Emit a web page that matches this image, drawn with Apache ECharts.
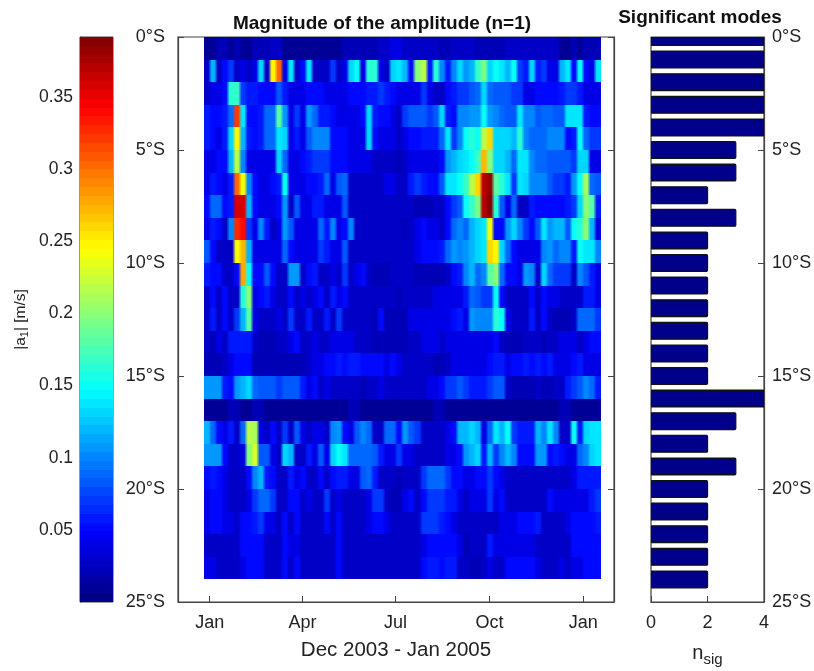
<!DOCTYPE html>
<html><head><meta charset="utf-8">
<style>html,body{margin:0;padding:0;background:#fff}#c{width:814px;height:671px;filter:blur(0.4px)}</style>
<script src="https://cdn.jsdelivr.net/npm/echarts@6/dist/echarts.min.js"></script>
</head><body><div id="c"></div>
<script>
// Amplitude in cm/s, one list per 1-degree latitude band, 66 time columns each
const lat00=[1,1,2,2,1,2,1,1,2,2,2, 3,3,1,1,1,1,1,1,1,1,1, 1,2,2,2,2,2,2,3,3,4,4, 3,3,3,3,3,3,2,2,3,3,3, 3,2,2,2,2,2,3,3,3,3,3, 3,3,3,3,1,1,2,1,2,2,2];
const lat01=[3,12,3,5,7,3,4,3,4,13,3, 25,30,4,14,3,5,14,3,3,3,7, 3,4,13,15,4,16,16,4,3,13,14, 12,5,20,22,6,16,10,6,10,13,11, 12,17,19,13,15,14,12,15,7,6,13, 6,7,4,4,12,14,5,15,5,4,14];
const lat02=[3,4,4,5,16,17,7,6,6,5,5, 5,8,6,4,4,4,5,5,5,4,4, 4,4,5,5,5,6,6,7,6,5,4, 4,4,4,7,4,3,3,5,6,7,7, 8,9,13,9,8,8,8,7,7,4,4, 5,5,5,5,6,7,7,6,4,4,4];
const lat03=[6,5,5,6,9,32,14,5,5,6,9, 9,18,11,4,7,4,11,9,6,6,5, 4,4,4,4,5,13,6,5,5,4,3, 7,8,8,8,7,8,13,6,5,10,10, 11,11,15,11,10,9,8,8,14,10,10, 8,9,9,8,8,14,14,14,6,5,5];
const lat04=[6,5,4,6,13,25,12,6,5,6,9, 9,14,13,4,6,4,8,10,10,10,5, 5,5,4,4,4,13,5,4,4,4,3, 4,5,5,6,6,6,9,14,7,10,15, 16,15,22,26,13,13,13,12,16,10,9, 9,9,10,10,10,5,6,15,9,7,7];
const lat05=[4,4,5,5,12,22,10,4,4,4,4, 4,13,9,4,4,5,6,7,7,7,5, 5,5,4,4,4,4,3,3,3,3,2, 3,4,4,4,4,4,5,11,12,13,14, 15,17,27,20,13,13,12,9,14,14,10, 9,9,8,8,8,8,7,13,13,4,4];
const lat06=[4,6,5,4,6,30,24,10,5,4,4, 5,6,15,4,4,4,5,5,6,9,4, 8,9,3,3,3,3,3,3,4,4,3, 3,6,7,6,5,5,8,14,14,15,17, 22,26,37,38,18,16,14,7,14,13,10, 10,10,8,7,7,6,11,15,21,9,8];
const lat07=[5,9,9,5,6,36,36,12,5,4,4, 4,5,11,3,8,4,4,6,6,4,4, 4,8,3,3,3,3,3,3,3,3,3, 3,3,2,2,2,3,3,5,7,8,15, 17,19,37,39,16,8,4,9,3,3,6, 5,5,5,5,5,6,7,13,20,18,6];
const lat08=[4,6,5,3,10,33,34,7,4,10,6, 3,4,11,8,4,4,4,4,9,6,10, 4,5,10,3,3,3,3,3,3,3,3, 2,3,4,5,4,4,3,5,9,10,9, 12,13,14,24,5,5,11,13,10,7,5, 8,14,11,12,12,8,15,16,20,12,4];
const lat09=[8,5,3,3,3,24,27,12,4,4,4, 4,4,9,5,4,4,4,4,7,6,4, 4,8,3,3,3,3,3,3,3,3,3, 3,3,4,5,5,5,6,9,11,10,11, 12,13,14,26,25,13,9,5,4,4,4, 4,10,11,9,10,10,6,15,14,14,10];
const lat10=[6,5,5,3,3,5,28,15,5,5,8, 5,3,3,11,11,3,5,6,3,3,4, 3,7,3,4,5,3,2,2,2,3,3, 3,3,2,2,2,2,2,3,5,6,10, 12,9,10,18,20,9,5,5,4,11,10, 3,13,9,7,7,7,3,10,8,6,4];
const lat11=[3,5,3,5,3,3,16,20,4,5,6, 4,3,3,5,3,4,3,4,5,3,6, 4,5,3,3,3,3,3,3,3,3,2, 3,3,3,3,3,4,4,4,4,4,6, 9,8,7,7,15,5,3,3,3,3,5, 3,5,4,4,3,3,3,3,6,6,4];
const lat12=[3,6,3,5,3,7,12,18,4,3,3, 3,4,3,7,3,3,6,3,3,6,3, 7,3,3,3,3,3,2,5,2,2,2, 2,4,4,4,4,4,4,4,5,6,4, 11,10,10,10,16,15,4,3,3,3,6, 3,5,3,2,2,2,3,9,9,9,7];
const lat13=[3,2,4,3,6,6,6,6,3,2,2, 2,3,3,4,5,3,3,4,3,3,4, 4,4,4,3,3,3,2,2,2,2,2, 2,3,3,4,4,4,3,4,4,4,4, 4,4,4,4,5,3,2,2,2,3,3, 3,2,3,3,4,4,4,3,4,5,5];
const lat14=[2,2,2,3,4,5,5,5,2,2,2, 2,2,2,2,2,2,3,4,4,5,5, 6,5,6,6,5,5,5,5,4,5,4, 3,3,3,3,3,2,2,3,4,4,4, 4,4,4,5,6,6,4,5,5,6,5, 6,5,6,4,4,4,5,6,4,4,4];
const lat15=[11,11,11,6,5,11,12,13,9,8,8, 8,7,8,8,8,6,4,5,3,4,3, 3,3,3,3,2,3,3,4,3,3,3, 3,3,3,3,4,4,5,7,7,8,7, 6,6,6,7,8,8,3,2,2,2,2, 3,2,2,3,3,6,7,8,10,9,6];
const lat16=[1,1,1,1,2,2,1,1,2,2,1, 1,1,1,1,1,1,1,1,1,1,1, 1,1,2,2,1,1,1,1,1,1,1, 1,1,1,1,1,2,2,1,1,1,1, 1,1,1,1,1,1,1,1,1,1,1, 1,1,1,1,2,2,1,1,1,1,1];
const lat17=[12,9,5,4,6,3,9,22,21,4,3, 5,3,7,3,8,4,3,4,4,3,10, 11,5,4,8,10,9,3,3,9,9,5, 11,8,7,3,3,3,3,4,5,12,12, 13,12,4,9,14,12,15,7,6,6,6, 12,10,14,10,3,3,15,6,13,14,14];
const lat18=[11,11,11,5,3,3,4,20,23,8,8, 4,3,13,12,3,3,6,4,8,4,13, 15,14,9,9,9,9,8,6,4,4,7, 4,4,3,3,3,3,3,4,4,5,11, 12,13,6,12,7,10,12,10,5,5,5, 11,11,5,6,5,4,4,9,10,13,14];
const lat19=[5,6,5,4,3,3,3,5,10,12,6, 5,3,3,6,4,5,3,3,5,3,5, 6,6,4,4,8,9,6,3,3,3,2, 3,3,3,7,9,9,9,7,5,5,4, 4,5,5,7,5,4,3,3,3,3,3, 3,3,3,3,3,3,4,6,6,6,6];
const lat20=[4,5,5,4,3,3,3,4,7,9,9, 7,3,3,5,5,3,4,3,3,7,3, 4,3,3,3,3,4,7,7,3,2,2, 4,5,3,5,7,7,7,6,6,4,3, 4,4,4,7,4,5,3,3,3,3,3, 3,3,5,4,4,4,4,4,4,6,7];
const lat21=[4,5,5,4,4,3,5,5,6,7,4, 4,3,5,3,5,3,3,3,3,5,3, 5,3,3,3,3,4,5,5,4,3,3, 3,3,3,7,7,7,6,5,4,3,3, 3,3,3,3,3,4,4,4,5,5,5, 6,3,3,3,3,4,5,5,5,5,6];
const lat22=[3,3,3,3,3,3,5,5,5,5,3, 3,3,5,4,4,3,3,3,3,3,3, 5,3,3,3,3,3,3,3,3,3,3, 3,3,3,4,5,5,5,5,5,4,2, 3,3,3,6,4,4,4,4,4,4,4, 3,3,3,3,3,3,5,5,5,5,5];
const lat23=[4,4,3,3,3,3,4,5,5,5,3, 3,3,5,3,5,3,3,3,3,3,3, 5,3,3,3,3,3,3,3,3,3,3, 3,3,3,5,6,6,5,6,6,3,3, 2,2,3,4,3,3,5,5,5,5,5, 4,3,3,3,4,3,4,4,5,5,5];
const bands=[lat00,lat01,lat02,lat03,lat04,lat05,lat06,lat07,lat08,lat09,lat10,lat11,lat12,lat13,lat14,lat15,lat16,lat17,lat18,lat19,lat20,lat21,lat22,lat23];

// Significant modes at 0..24 degrees south
const nsig=[4,4,4,4,4,3,3,2,3,2,2,2,2,2,2,2,4,3,2,3,2,2,2,2,2];

// Time: days relative to 1 Jan 2004
const startDay=-5.9, stepDay=5.9;
const monthTickDays=[0,91,182,274,366];
const monthTickLabels=['Jan','Apr','Jul','Oct','Jan'];
const cbTicks=[0.05,0.1,0.15,0.2,0.25,0.3,0.35];
const cmax=0.3915;

function jetRGB(t){
  const f=(a)=>Math.round(255*Math.max(0,Math.min(1,1.5-Math.abs(4*t-a))));
  return [f(3),f(2),f(1)];
}
const css=c=>'rgb('+c.map(Math.round).join(',')+')';
const N=64;
const jetTable=[];
for(let i=0;i<N;i++) jetTable.push(jetRGB((i+0.5)/N));
const colorOf=v=>jetTable[Math.max(0,Math.min(N-1,Math.floor(v/cmax*N)))];
const mix=(a,b)=>a.map((x,i)=>(x+b[i])/2);
const cbStops=[];
jetTable.forEach((c,i)=>{cbStops.push({offset:i/N,color:css(c)},{offset:(i+1)/N,color:css(c)});});

const cells=[];
bands.forEach((row,j)=>row.forEach((v,i)=>cells.push([startDay+i*stepDay,j,v/100,i])));

const FONT='"Liberation Sans",Arial,sans-serif';
const AX='#444';
const TXT='#222';
const lab={fontFamily:FONT,fontSize:18,color:TXT};
const line={show:true,onZero:false,lineStyle:{color:AX,width:1.2}};
const tick={show:true,inside:true,length:6,lineStyle:{color:AX,width:1}};
const gridBase={show:true,borderColor:AX,backgroundColor:'transparent',outerBoundsMode:'none',containLabel:false};

const chart=echarts.init(document.getElementById('c'),null,{renderer:'canvas'});
chart.setOption({
  animation:false,
  backgroundColor:'#fff',
  title:[
    {text:'Magnitude of the amplitude (n=1)',left:377,top:9,textAlign:'center',textStyle:{fontFamily:FONT,fontSize:19,fontWeight:'bold',color:'#111'}},
    {text:'Significant modes',left:695,top:3,textAlign:'center',textStyle:{fontFamily:FONT,fontSize:19,fontWeight:'bold',color:'#111'}}
  ],
  grid:[
    {...gridBase,left:80,top:37,width:33,height:565,borderWidth:1},
    {...gridBase,left:178,top:37,width:436,height:565,borderWidth:1.2},
    {...gridBase,left:651,top:37,width:113,height:565,borderWidth:1.2}
  ],
  xAxis:[
    {gridIndex:0,type:'value',min:0,max:1,show:false},
    {gridIndex:1,type:'value',min:-31,max:396,splitLine:{show:false},axisLine:line,
      axisTick:{...tick,customValues:monthTickDays},
      axisLabel:{...lab,margin:12,customValues:monthTickDays,formatter:v=>monthTickLabels[monthTickDays.indexOf(v)]||''},
      name:'Dec 2003 - Jan 2005',nameLocation:'middle',nameGap:38,nameTextStyle:{fontFamily:FONT,fontSize:20.5,color:TXT}},
    {gridIndex:2,type:'value',min:0,max:4,interval:2,splitLine:{show:false},axisLine:line,axisTick:tick,
      axisLabel:{...lab,margin:12},
      name:'n{s|sig}',nameLocation:'middle',nameGap:38,nameTextStyle:{fontFamily:FONT,fontSize:20,color:TXT,rich:{s:{fontFamily:FONT,fontSize:15,color:TXT,padding:[12,0,0,0]}}}}
  ],
  yAxis:[
    {gridIndex:0,type:'value',min:0,max:cmax,position:'left',splitLine:{show:false},axisLine:line,
      axisTick:{...tick,customValues:cbTicks},
      axisLabel:{...lab,fontSize:17.5,margin:7,customValues:cbTicks,formatter:v=>String(+v.toFixed(2))},
      name:'|a{s|1}| [m/s]',nameLocation:'middle',nameRotate:90,nameGap:50,
      nameTextStyle:{fontFamily:FONT,fontSize:15.5,color:TXT,rich:{s:{fontFamily:FONT,fontSize:11,color:TXT,padding:[8,0,0,0]}}}},
    {gridIndex:1,type:'value',min:0,max:25,interval:5,inverse:true,position:'left',splitLine:{show:false},axisLine:line,axisTick:tick,
      axisLabel:{...lab,margin:13,formatter:v=>v+'°S'}},
    {gridIndex:1,type:'value',min:0,max:25,interval:5,inverse:true,position:'right',splitLine:{show:false},axisLine:line,axisTick:tick,axisLabel:{show:false}},
    {gridIndex:2,type:'value',min:0,max:25,interval:5,inverse:true,position:'right',splitLine:{show:false},axisLine:line,axisTick:tick,
      axisLabel:{...lab,margin:8,formatter:v=>v+'°S'}}
  ],
  series:[
    {type:'custom',xAxisIndex:1,yAxisIndex:1,coordinateSystem:'cartesian2d',data:cells,encode:{x:0,y:1},z:3,
      renderItem:(p,api)=>{
        const d=api.value(0),l=api.value(1),i=api.value(3);
        const a=api.coord([d,l]),b=api.coord([d+stepDay,l+1]);
        const row=bands[l],here=colorOf(row[i]/100);
        const prev=i>0?colorOf(row[i-1]/100):here, next=i<row.length-1?colorOf(row[i+1]/100):here;
        const fill=new echarts.graphic.LinearGradient(0,0,1,0,[
          {offset:0,color:css(mix(prev,here))},{offset:0.28,color:css(here)},
          {offset:0.72,color:css(here)},{offset:1,color:css(mix(here,next))}]);
        const x0=Math.round(a[0]),x1=Math.round(b[0]),y0=Math.round(a[1]),y1=Math.round(b[1]);
        return {type:'rect',shape:{x:x0,y:y0,width:x1-x0,height:y1-y0},style:{fill}};
      }},
    {type:'custom',xAxisIndex:0,yAxisIndex:0,coordinateSystem:'cartesian2d',data:[[0,1,0,cmax]],z:1,silent:true,
      renderItem:(p,api)=>{
        const a=api.coord([0,cmax]),b=api.coord([1,0]);
        return {type:'rect',shape:{x:a[0],y:a[1],width:b[0]-a[0],height:b[1]-a[1]},
          style:{fill:new echarts.graphic.LinearGradient(0,1,0,0,cbStops)}};
      }},
    {type:'custom',xAxisIndex:2,yAxisIndex:3,coordinateSystem:'cartesian2d',clip:true,z:3,
      data:nsig.map((n,i)=>[n,i]),encode:{x:0,y:1},
      renderItem:(p,api)=>{
        const n=api.value(0),l=api.value(1);
        const a=api.coord([0,l-0.37]),b=api.coord([n,l+0.37]);
        return {type:'rect',shape:{x:a[0],y:a[1],width:b[0]-a[0],height:b[1]-a[1],r:1},
          style:{fill:'#00008b',stroke:'#111',lineWidth:1.3}};
      }}
  ]
});
</script></body></html>
